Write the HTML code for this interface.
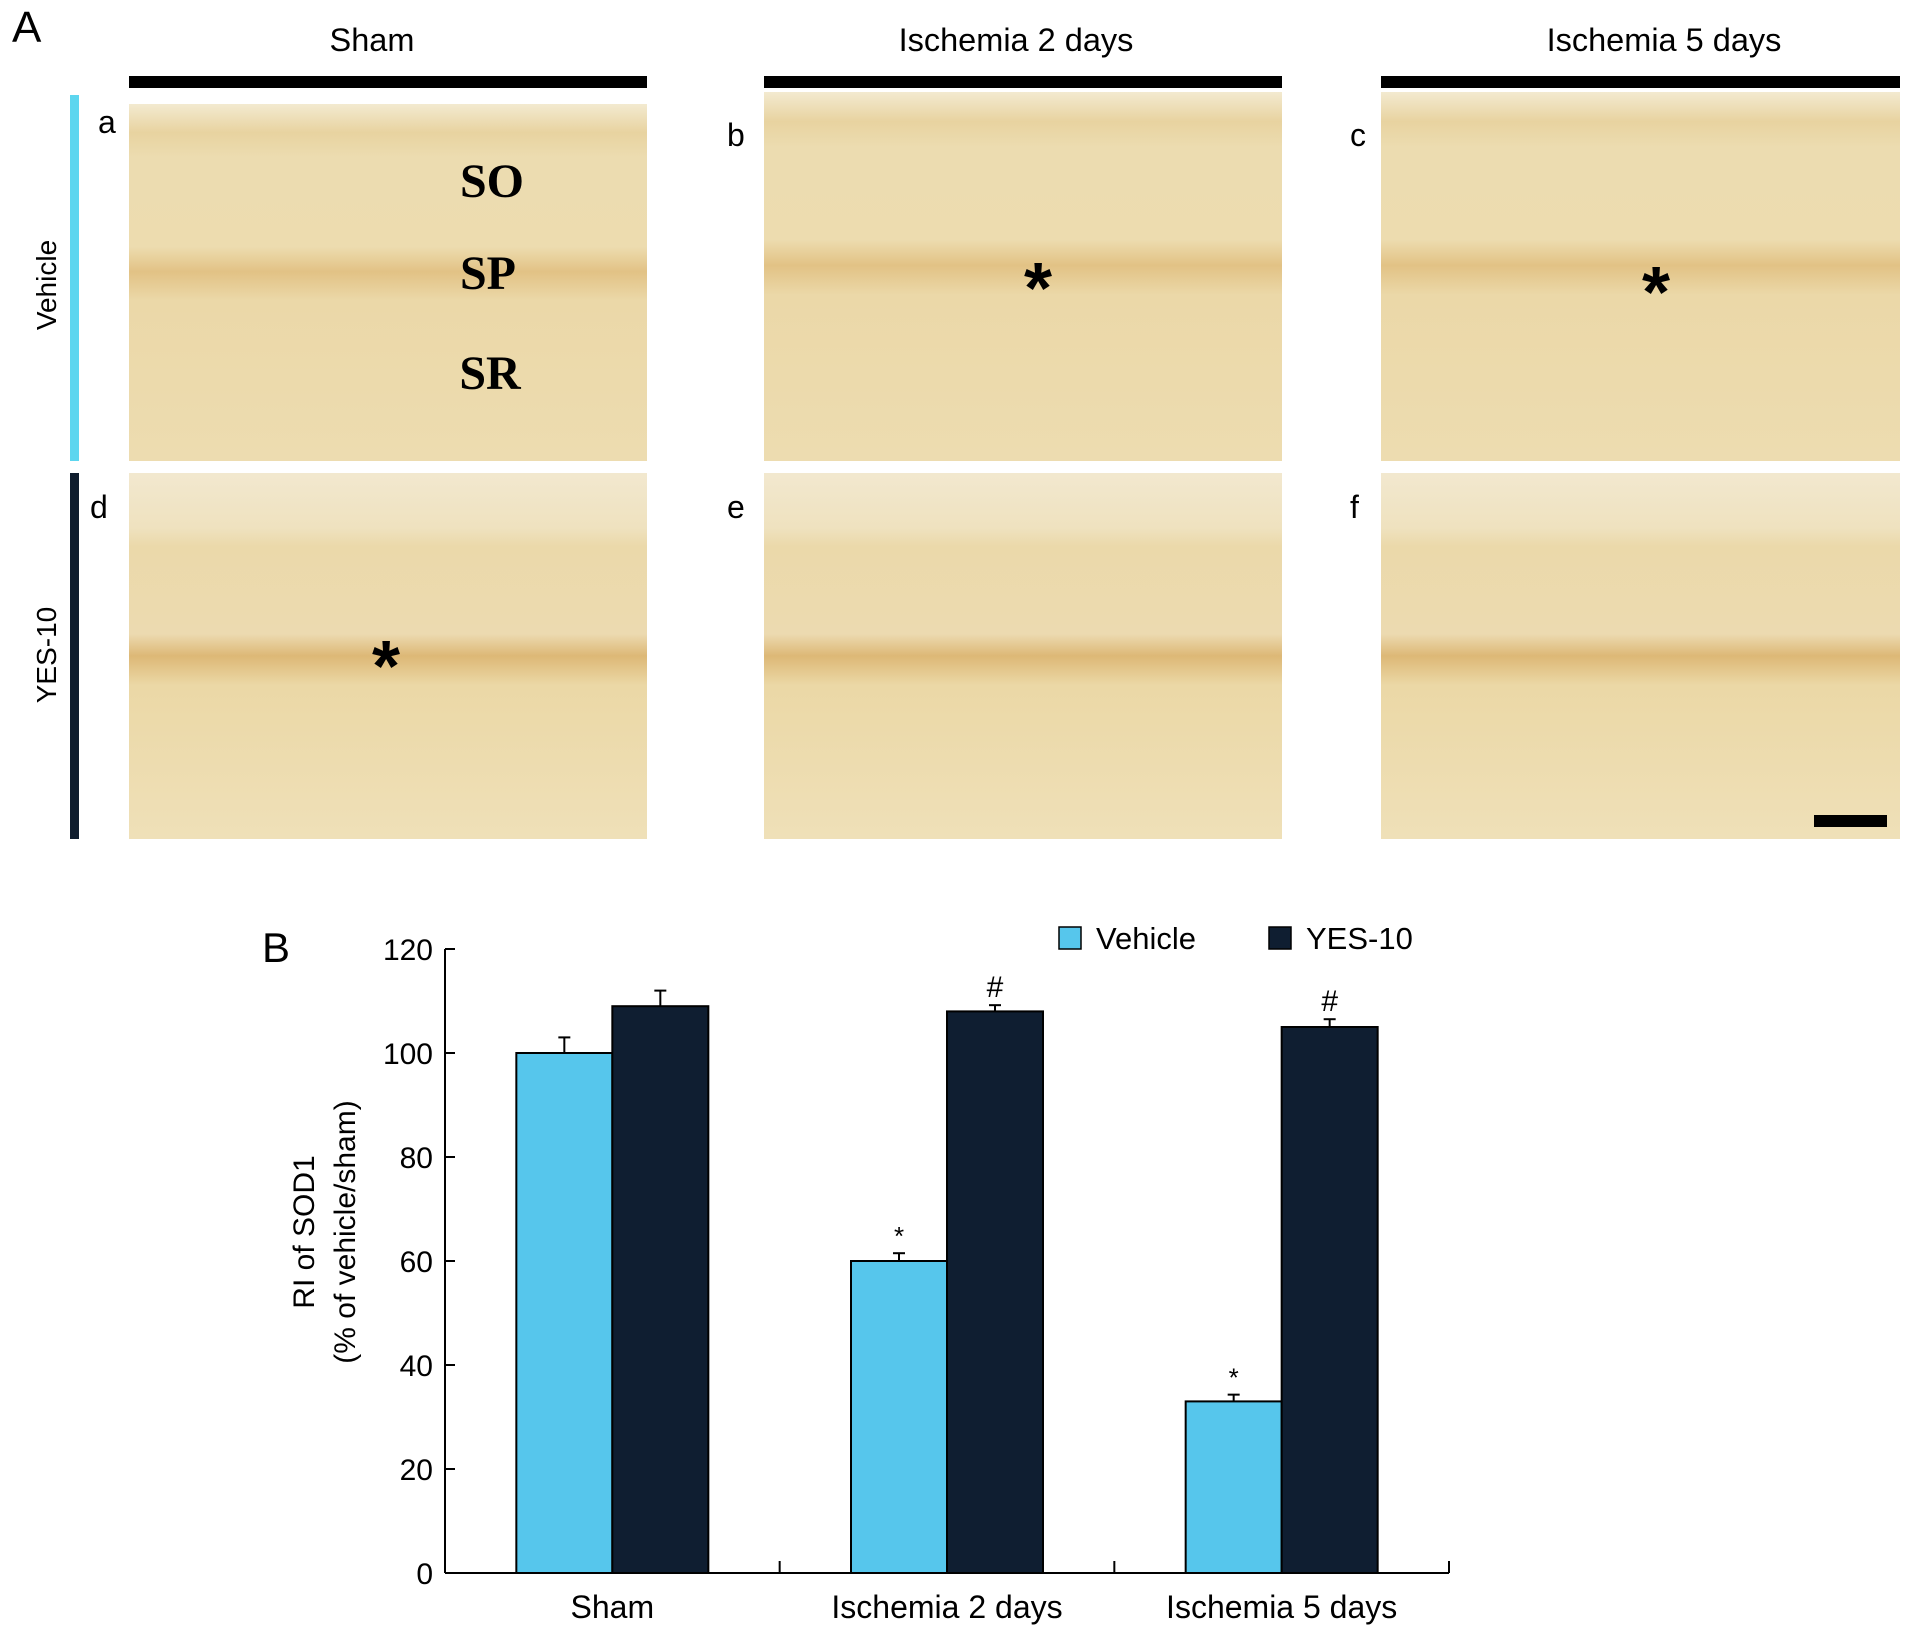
<!DOCTYPE html>
<html><head><meta charset="utf-8"><style>
body{margin:0;background:#fff;}
svg{display:block;font-family:"Liberation Sans",sans-serif;}
</style></head><body>
<svg width="1913" height="1638" viewBox="0 0 1913 1638">
<defs>
<linearGradient id="g1" x1="0" y1="0" x2="0" y2="1">
<stop offset="0" stop-color="#f3ead0"/><stop offset="0.08" stop-color="#e8d3a0"/><stop offset="0.15" stop-color="#ecdcb0"/>
<stop offset="0.4" stop-color="#eddcaf"/><stop offset="0.47" stop-color="#e2c285"/><stop offset="0.55" stop-color="#ebd8a8"/>
<stop offset="1" stop-color="#eddcb0"/></linearGradient>
<linearGradient id="g2" x1="0" y1="0" x2="0" y2="1">
<stop offset="0" stop-color="#f2e8cf"/><stop offset="0.15" stop-color="#efe2bf"/><stop offset="0.2" stop-color="#ebd9aa"/>
<stop offset="0.44" stop-color="#ecdab0"/><stop offset="0.5" stop-color="#ddb876"/><stop offset="0.58" stop-color="#ebd8a6"/>
<stop offset="1" stop-color="#efe0b8"/></linearGradient>
</defs>
<g>
<text x="12" y="42" font-size="44">A</text>
<g font-size="32.5" text-anchor="middle">
<text x="372" y="51">Sham</text>
<text x="1016" y="51">Ischemia 2 days</text>
<text x="1664" y="51">Ischemia 5 days</text>
</g>
<rect x="129" y="76" width="518" height="12" fill="#000"/>
<rect x="764" y="76" width="518" height="12" fill="#000"/>
<rect x="1381" y="76" width="519" height="12" fill="#000"/>
<rect x="70" y="95" width="9" height="366" fill="#5dd6ef"/>
<rect x="70" y="473" width="9" height="366" fill="#0f1d2e"/>
<text transform="translate(56,285) rotate(-90)" font-size="28" text-anchor="middle">Vehicle</text>
<text transform="translate(56,655) rotate(-90)" font-size="28" text-anchor="middle">YES-10</text>
<rect x="129" y="104" width="518" height="357" fill="url(#g1)"/>
<rect x="764" y="92" width="518" height="369" fill="url(#g1)"/>
<rect x="1381" y="92" width="519" height="369" fill="url(#g1)"/>
<rect x="129" y="473" width="518" height="366" fill="url(#g2)"/>
<rect x="764" y="473" width="518" height="366" fill="url(#g2)"/>
<rect x="1381" y="473" width="519" height="366" fill="url(#g2)"/>
<g font-size="32">
<text x="98" y="133">a</text>
<text x="727" y="146">b</text>
<text x="1350" y="146">c</text>
<text x="90" y="518">d</text>
<text x="727" y="518">e</text>
<text x="1350" y="518">f</text>
</g>
<g font-family="Liberation Serif,serif" font-weight="bold" font-size="48" text-anchor="middle">
<text x="492" y="197">SO</text>
<text x="488" y="289">SP</text>
<text x="490" y="389">SR</text>
</g>
<g font-size="72" font-weight="bold" text-anchor="middle">
<text x="1038" y="313">*</text>
<text x="1656" y="317">*</text>
<text x="386" y="691">*</text>
</g>
<rect x="1814" y="815" width="73" height="12" fill="#000"/>
</g>
<g id="chart"></g>
</svg>
<script>
const categories=["Sham","Ischemia 2 days","Ischemia 5 days"];
const seriesNames=["Vehicle","YES-10"];
const vehicle=[100,60,33];
const yes10=[109,108,105];
const vehicleErr=[3,1.5,1.3];
const yes10Err=[3,1.2,1.5];
const yTicks=[0,20,40,60,80,100,120];
const vehicleMarks=["","*","*"];
const yes10Marks=["","#","#"];

const NS="http://www.w3.org/2000/svg";
const g=document.getElementById('chart');
const X0=445,X1=1449,Y0=1573,Y1=949,YMAX=120;
const y=v=>Y0-(v/YMAX)*(Y0-Y1);
const band=(X1-X0)/categories.length;
const bw=96;
function mk(tag,attrs,parent){const e=document.createElementNS(NS,tag);for(const k in attrs)e.setAttribute(k,attrs[k]);(parent||g).appendChild(e);return e;}
let e;
e=mk('text',{x:262,y:962,'font-size':42});e.textContent='B';


e=mk('line',{x1:X0,y1:Y1,x2:X0,y2:Y0,stroke:'#000','stroke-width':2});


e=mk('line',{x1:X0,y1:Y0,x2:X1,y2:Y0,stroke:'#000','stroke-width':2});


yTicks.forEach(t=>{
  e=mk('line',{x1:X0,y1:y(t),x2:X0+10,y2:y(t),stroke:'#000','stroke-width':2});
  
  
  e=mk('text',{x:433,y:y(t)+11,'font-size':30,'text-anchor':'end'});e.textContent=t;
  
  
});
for(let i=1;i<=categories.length;i++){
  e=mk('line',{x1:X0+band*i,y1:Y0,x2:X0+band*i,y2:Y0-12,stroke:'#000','stroke-width':2});
  
  
}
e=mk('text',{transform:'translate(314,1232) rotate(-90)','font-size':30,'text-anchor':'middle'});e.textContent='RI of SOD1';


e=mk('text',{transform:'translate(355,1232) rotate(-90)','font-size':30,'text-anchor':'middle'});e.textContent='(% of vehicle/sham)';


function bar(cx,v,err,col,mark,name){
  const top=y(v);
  const ey=y(v+err);
  e=mk('line',{x1:cx+bw/2,y1:top,x2:cx+bw/2,y2:ey,stroke:'#000','stroke-width':2});
  
  
  e=mk('line',{x1:cx+bw/2-6,y1:ey,x2:cx+bw/2+6,y2:ey,stroke:'#000','stroke-width':2});
  
  
  e=mk('rect',{x:cx,y:top,width:bw,height:Y0-top,fill:col,stroke:'#000','stroke-width':2});
  
  
  if(mark){
    const fs=mark==='*'?26:30;
    e=mk('text',{x:cx+bw/2,y:ey-8,'font-size':fs,'text-anchor':'middle'});e.textContent=mark;
    
    
  }
}
categories.forEach((c,i)=>{
  const cx=X0+band*(i+0.5);
  bar(cx-bw,vehicle[i],vehicleErr[i],'#56c6ec',vehicleMarks[i],'bar-vehicle-'+i);
  bar(cx,yes10[i],yes10Err[i],'#0f1e31',yes10Marks[i],'bar-yes10-'+i);
  e=mk('text',{x:cx,y:1618,'font-size':32,'text-anchor':'middle'});e.textContent=c;
  
  
});
const legCols=['#56c6ec','#0f1e31'],legX=[1059,1269];
seriesNames.forEach((s,i)=>{
  e=mk('rect',{x:legX[i],y:927,width:22,height:22,fill:legCols[i],stroke:'#000','stroke-width':1.5});
  
  
  e=mk('text',{x:legX[i]+37,y:949,'font-size':31});e.textContent=s;
  
  
});
</script>
</body></html>
